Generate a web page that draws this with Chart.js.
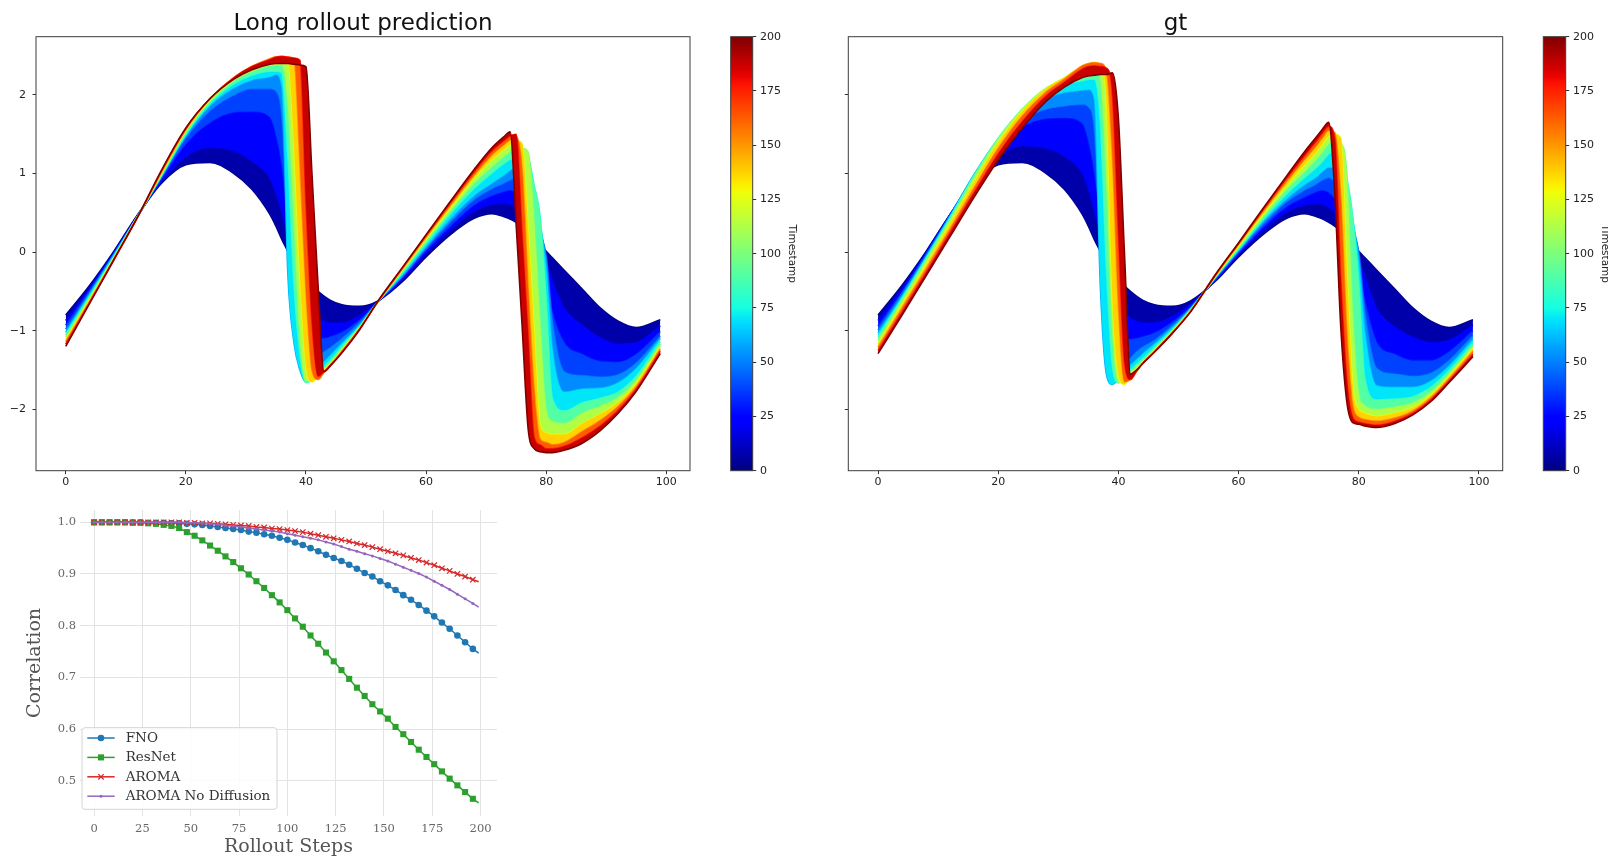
<!DOCTYPE html>
<html>
<head>
<meta charset="utf-8">
<title>Long rollout prediction / gt / correlation</title>
<script src="https://cdn.jsdelivr.net/npm/chart.js@4.4.1/dist/chart.umd.min.js"></script>
<style>
  html, body { margin: 0; padding: 0; background: #ffffff; }
  body { width: 1608px; height: 856px; position: relative; overflow: hidden; }
  canvas { position: absolute; }
  #corrChart { filter: blur(0.6px); }
</style>
</head>
<body>
<canvas id="predChart" width="700" height="500" style="left:0px;top:0px"></canvas>
<canvas id="predBar" width="120" height="500" style="left:700px;top:0px"></canvas>
<canvas id="gtChart" width="700" height="500" style="left:812px;top:0px"></canvas>
<canvas id="gtBar" width="120" height="500" style="left:1513px;top:0px"></canvas>
<canvas id="corrChart" width="510" height="376" style="left:0px;top:490px"></canvas>
<script>
// ---------------------------------------------------------------------------
// Solution snapshots u(x, t) on the spatial grid, one array per timestamp.
// ---------------------------------------------------------------------------
const xGrid = [0, 4, 8, 12, 16, 20, 24, 28, 31, 34, 35, 36, 37, 38, 39, 40, 41, 42, 43, 44,
               46, 49, 52, 56, 60, 64, 68, 71, 73, 74, 75, 76, 77, 78, 79, 80, 81, 83, 86, 89,
               92, 95, 99];
const timestamps = [0, 15, 30, 45, 60, 80, 100, 125, 150, 175, 200];

// initial state (shared by both rollouts)
const initialState = [-0.80, -0.42, 0.01, 0.48, 0.88, 1.11, 1.14, 1.00, 0.80, 0.48,
  0.33, 0.16, 0.01, -0.13, -0.25, -0.35, -0.43, -0.50, -0.56, -0.61,
  -0.67, -0.69, -0.62, -0.38, -0.06, 0.22, 0.43, 0.49, 0.45, 0.42,
  0.38, 0.33, 0.27, 0.20, 0.11, 0.01, -0.07, -0.23, -0.47, -0.71,
  -0.88, -0.96, -0.86];

// long rollout prediction
const pred015 = [-0.87, -0.45, 0.00, 0.47, 0.90, 1.21, 1.33, 1.29, 1.16, 0.94,
  0.75, 0.50, 0.20, -0.15, -0.45, -0.65, -0.77, -0.84, -0.88, -0.90,
  -0.90, -0.80, -0.63, -0.35, -0.02, 0.28, 0.52, 0.61, 0.62, 0.61,
  0.57, 0.50, 0.40, 0.27, 0.10, -0.12, -0.35, -0.71, -0.93, -1.09,
  -1.17, -1.15, -0.94];
const pred030 = [-0.93, -0.48, -0.02, 0.46, 0.94, 1.38, 1.65, 1.78, 1.79, 1.72,
  1.50, 1.10, 0.40, -0.40, -0.85, -1.02, -1.08, -1.10, -1.10, -1.08,
  -1.02, -0.86, -0.63, -0.33, 0.02, 0.33, 0.60, 0.72, 0.77, 0.79,
  0.76, 0.68, 0.52, 0.30, 0.02, -0.35, -0.75, -1.15, -1.30, -1.39,
  -1.40, -1.30, -1.01];
const pred045 = [-0.98, -0.51, -0.03, 0.46, 0.96, 1.45, 1.80, 2.00, 2.08, 2.08,
  2.05, 1.70, 0.20, -0.90, -1.30, -1.42, -1.40, -1.33, -1.27, -1.22,
  -1.10, -0.89, -0.63, -0.31, 0.05, 0.38, 0.67, 0.81, 0.88, 0.92,
  0.95, 0.90, 0.75, 0.48, 0.25, -0.05, -0.85, -1.52, -1.57, -1.59,
  -1.56, -1.41, -1.07];
const pred060 = [-1.02, -0.53, -0.04, 0.46, 0.97, 1.48, 1.86, 2.09, 2.19, 2.23,
  2.26, 2.10, -0.30, -1.15, -1.50, -1.65, -1.58, -1.49, -1.40, -1.32,
  -1.16, -0.92, -0.63, -0.30, 0.07, 0.42, 0.72, 0.88, 0.98, 1.04,
  1.08, 1.05, 0.90, 0.60, 0.35, -0.20, -1.20, -1.78, -1.74, -1.73,
  -1.66, -1.48, -1.10];
const pred080 = [-1.05, -0.56, -0.06, 0.46, 0.98, 1.50, 1.89, 2.14, 2.25, 2.30,
  2.30, 2.28, 1.20, -0.40, -1.30, -1.66, -1.62, -1.54, -1.46, -1.38,
  -1.20, -0.94, -0.63, -0.27, 0.11, 0.48, 0.81, 1.01, 1.13, 1.18,
  1.22, 1.24, 1.20, 0.85, 0.45, -0.60, -1.85, -2.02, -1.92, -1.86,
  -1.78, -1.58, -1.14];
const pred100 = [-1.08, -0.58, -0.07, 0.46, 1.00, 1.53, 1.92, 2.18, 2.30, 2.37,
  2.38, 2.38, 1.85, 0.40, -1.10, -1.64, -1.62, -1.56, -1.48, -1.41,
  -1.23, -0.95, -0.63, -0.25, 0.14, 0.52, 0.88, 1.09, 1.22, 1.28,
  1.32, 1.32, 1.27, 0.40, -0.90, -2.00, -2.15, -2.18, -2.05, -1.96,
  -1.85, -1.63, -1.17];
const pred125 = [-1.11, -0.60, -0.08, 0.45, 1.01, 1.55, 1.94, 2.21, 2.34, 2.43,
  2.44, 2.45, 2.44, 1.35, -0.30, -1.45, -1.65, -1.58, -1.50, -1.43,
  -1.25, -0.96, -0.63, -0.23, 0.17, 0.56, 0.94, 1.18, 1.31, 1.37,
  1.42, 1.38, 0.30, -1.00, -2.20, -2.30, -2.32, -2.32, -2.18, -2.06,
  -1.91, -1.67, -1.20];
const pred150 = [-1.14, -0.62, -0.09, 0.45, 1.02, 1.56, 1.95, 2.22, 2.36, 2.46,
  2.48, 2.48, 2.48, 2.46, 1.10, -0.50, -1.50, -1.62, -1.53, -1.44,
  -1.26, -0.97, -0.63, -0.22, 0.19, 0.59, 0.98, 1.24, 1.37, 1.43,
  1.47, 1.05, -0.45, -1.75, -2.38, -2.42, -2.45, -2.42, -2.28, -2.14,
  -1.96, -1.71, -1.23];
const pred175 = [-1.17, -0.64, -0.10, 0.45, 1.04, 1.57, 1.95, 2.22, 2.36, 2.45,
  2.48, 2.49, 2.48, 2.47, 2.44, 0.60, -0.90, -1.58, -1.52, -1.45,
  -1.27, -0.97, -0.63, -0.21, 0.21, 0.62, 1.02, 1.29, 1.42, 1.48,
  1.50, 0.25, -1.05, -2.35, -2.45, -2.50, -2.50, -2.47, -2.36, -2.21,
  -2.01, -1.74, -1.26];
const pred200 = [-1.20, -0.65, -0.10, 0.45, 1.05, 1.58, 1.95, 2.20, 2.32, 2.39,
  2.40, 2.40, 2.40, 2.39, 2.38, 2.36, 1.00, -0.40, -1.52, -1.45,
  -1.28, -0.98, -0.62, -0.20, 0.22, 0.64, 1.05, 1.33, 1.47, 1.53,
  0.35, -0.95, -2.25, -2.50, -2.54, -2.55, -2.55, -2.52, -2.43, -2.27,
  -2.05, -1.77, -1.29];

// ground truth
const gt015 = [-0.87, -0.46, 0.00, 0.48, 0.92, 1.22, 1.35, 1.32, 1.22, 1.00,
  0.80, 0.52, 0.20, -0.15, -0.45, -0.65, -0.77, -0.84, -0.88, -0.90,
  -0.90, -0.82, -0.66, -0.37, -0.03, 0.27, 0.51, 0.60, 0.62, 0.61,
  0.57, 0.50, 0.40, 0.27, 0.10, -0.10, -0.30, -0.72, -0.95, -1.08,
  -1.15, -1.12, -0.93];
const gt030 = [-0.94, -0.50, -0.02, 0.48, 0.95, 1.36, 1.60, 1.70, 1.71, 1.64,
  1.42, 1.02, 0.35, -0.45, -0.90, -1.05, -1.10, -1.11, -1.10, -1.08,
  -1.03, -0.89, -0.69, -0.36, -0.01, 0.31, 0.58, 0.70, 0.77, 0.79,
  0.76, 0.68, 0.53, 0.33, 0.07, -0.28, -0.62, -1.15, -1.30, -1.38,
  -1.38, -1.27, -1.00];
const gt045 = [-0.99, -0.53, -0.04, 0.47, 0.98, 1.40, 1.68, 1.82, 1.86, 1.88,
  1.85, 1.55, 0.10, -1.00, -1.35, -1.45, -1.42, -1.35, -1.27, -1.21,
  -1.12, -0.93, -0.71, -0.35, 0.01, 0.35, 0.64, 0.79, 0.87, 0.92,
  0.95, 0.90, 0.78, 0.55, 0.30, 0.00, -0.75, -1.48, -1.55, -1.58,
  -1.54, -1.38, -1.06];
const gt060 = [-1.03, -0.56, -0.06, 0.46, 0.99, 1.44, 1.77, 1.96, 2.03, 2.06,
  2.07, 1.95, -0.45, -1.55, -1.68, -1.62, -1.52, -1.44, -1.37, -1.30,
  -1.17, -0.96, -0.72, -0.34, 0.02, 0.38, 0.68, 0.86, 0.96, 1.03,
  1.08, 1.07, 1.00, 0.75, 0.40, -0.10, -1.00, -1.70, -1.72, -1.72,
  -1.64, -1.45, -1.11];
const gt080 = [-1.08, -0.59, -0.08, 0.44, 0.98, 1.45, 1.81, 2.05, 2.14, 2.18,
  2.20, 2.20, 1.65, -0.20, -1.45, -1.66, -1.58, -1.50, -1.43, -1.36,
  -1.21, -0.99, -0.73, -0.33, 0.04, 0.41, 0.74, 0.95, 1.08, 1.16,
  1.25, 1.27, 1.25, 0.95, 0.45, -0.40, -1.60, -1.88, -1.87, -1.84,
  -1.72, -1.51, -1.16];
const gt100 = [-1.12, -0.62, -0.11, 0.41, 0.95, 1.44, 1.82, 2.09, 2.20, 2.30,
  2.32, 2.33, 2.20, 0.90, -1.00, -1.66, -1.62, -1.53, -1.46, -1.39,
  -1.24, -1.00, -0.74, -0.33, 0.06, 0.44, 0.80, 1.03, 1.19, 1.28,
  1.38, 1.40, 1.38, 1.00, -0.80, -1.80, -1.95, -2.00, -1.97, -1.92,
  -1.78, -1.55, -1.19];
const gt125 = [-1.17, -0.67, -0.16, 0.36, 0.89, 1.39, 1.79, 2.08, 2.22, 2.36,
  2.39, 2.40, 2.38, 1.90, -0.60, -1.55, -1.68, -1.57, -1.49, -1.41,
  -1.25, -1.01, -0.75, -0.32, 0.08, 0.48, 0.85, 1.11, 1.28, 1.38,
  1.48, 1.50, 1.45, -0.20, -1.70, -2.00, -2.05, -2.09, -2.05, -1.98,
  -1.82, -1.58, -1.23];
const gt150 = [-1.21, -0.71, -0.21, 0.30, 0.82, 1.32, 1.73, 2.04, 2.20, 2.37,
  2.40, 2.41, 2.40, 2.30, 1.20, -0.70, -1.65, -1.62, -1.51, -1.42,
  -1.26, -1.02, -0.75, -0.31, 0.10, 0.51, 0.90, 1.18, 1.36, 1.46,
  1.55, 1.52, 0.70, -1.00, -1.95, -2.10, -2.13, -2.15, -2.11, -2.02,
  -1.85, -1.61, -1.26];
const gt175 = [-1.25, -0.76, -0.26, 0.25, 0.76, 1.25, 1.66, 1.99, 2.16, 2.33,
  2.36, 2.37, 2.36, 2.34, 2.00, 0.20, -1.40, -1.62, -1.52, -1.42,
  -1.27, -1.03, -0.76, -0.31, 0.11, 0.53, 0.94, 1.23, 1.42, 1.52,
  1.60, 1.45, -0.30, -1.60, -2.10, -2.16, -2.18, -2.20, -2.15, -2.05,
  -1.88, -1.64, -1.30];
const gt200 = [-1.29, -0.80, -0.30, 0.20, 0.70, 1.17, 1.58, 1.92, 2.10, 2.22,
  2.24, 2.25, 2.26, 2.26, 2.28, 1.70, 0.00, -1.55, -1.50, -1.42,
  -1.27, -1.03, -0.76, -0.30, 0.12, 0.55, 0.97, 1.28, 1.47, 1.57,
  1.65, 0.75, -0.95, -1.90, -2.17, -2.19, -2.21, -2.23, -2.18, -2.07,
  -1.90, -1.66, -1.33];

const fieldXTicks = [0, 20, 40, 60, 80, 100];
const fieldYTicks = [-2, -1, 0, 1, 2];
const colorbarTicks = [0, 25, 50, 75, 100, 125, 150, 175, 200];

// ---------------------------------------------------------------------------
// Correlation with ground truth along the rollout
// ---------------------------------------------------------------------------
const rolloutSteps = [0, 4, 8, 12, 16, 20, 24, 28, 32, 36, 40, 44, 48, 52, 56, 60, 64, 68, 72, 76,
  80, 84, 88, 92, 96, 100, 104, 108, 112, 116, 120, 124, 128, 132, 136, 140, 144, 148, 152, 156,
  160, 164, 168, 172, 176, 180, 184, 188, 192, 196, 199];
const corrFNO = [1.000, 1.000, 1.000, 1.000, 1.000, 1.000, 1.000, 0.999, 0.999, 0.999,
  0.998, 0.998, 0.997, 0.996, 0.995, 0.993, 0.991, 0.989, 0.987, 0.985,
  0.982, 0.980, 0.977, 0.974, 0.970, 0.966, 0.961, 0.956, 0.950, 0.944,
  0.937, 0.931, 0.925, 0.918, 0.910, 0.902, 0.895, 0.886, 0.878, 0.869,
  0.859, 0.850, 0.840, 0.829, 0.818, 0.806, 0.794, 0.781, 0.768, 0.755, 0.747];
const corrResNet = [1.000, 1.000, 1.000, 1.000, 1.000, 0.999, 0.999, 0.998, 0.997, 0.995,
  0.993, 0.989, 0.981, 0.974, 0.965, 0.955, 0.945, 0.934, 0.923, 0.911,
  0.899, 0.886, 0.873, 0.859, 0.845, 0.830, 0.814, 0.798, 0.781, 0.765,
  0.748, 0.731, 0.714, 0.697, 0.680, 0.664, 0.648, 0.634, 0.620, 0.604,
  0.590, 0.575, 0.560, 0.546, 0.532, 0.518, 0.504, 0.491, 0.478, 0.465, 0.457];
const corrAROMA = [1.000, 1.000, 1.000, 1.000, 1.000, 1.000, 1.000, 1.000, 1.000, 1.000,
  1.000, 1.000, 0.999, 0.999, 0.998, 0.998, 0.997, 0.996, 0.995, 0.994,
  0.993, 0.991, 0.990, 0.988, 0.987, 0.985, 0.983, 0.981, 0.978, 0.975,
  0.972, 0.969, 0.966, 0.963, 0.959, 0.956, 0.952, 0.948, 0.944, 0.940,
  0.936, 0.931, 0.927, 0.922, 0.917, 0.911, 0.906, 0.900, 0.895, 0.889, 0.885];
const corrAROMANoDiff = [1.000, 1.000, 1.000, 1.000, 1.000, 1.000, 1.000, 1.000, 1.000, 1.000,
  1.000, 1.000, 0.999, 0.999, 0.998, 0.997, 0.996, 0.994, 0.993, 0.991,
  0.989, 0.987, 0.985, 0.983, 0.981, 0.978, 0.975, 0.972, 0.969, 0.966,
  0.962, 0.958, 0.953, 0.948, 0.944, 0.939, 0.935, 0.930, 0.925, 0.919,
  0.913, 0.907, 0.901, 0.894, 0.886, 0.878, 0.870, 0.861, 0.852, 0.843, 0.836];
const rolloutTicks = [0, 25, 50, 75, 100, 125, 150, 175, 200];
const corrTicks = [0.5, 0.6, 0.7, 0.8, 0.9, 1.0];

// ---------------------------------------------------------------------------
// Styling helpers
// ---------------------------------------------------------------------------
const SANS = '"DejaVu Sans", "Liberation Sans", sans-serif';
const SERIF = '"DejaVu Serif", "Liberation Serif", serif';

// jet colormap (piecewise linear segments)
const JET = {
  r: [[0, 0], [0.35, 0], [0.66, 1], [0.89, 1], [1, 0.5]],
  g: [[0, 0], [0.125, 0], [0.375, 1], [0.64, 1], [0.91, 0], [1, 0]],
  b: [[0, 0.5], [0.11, 1], [0.34, 1], [0.65, 0], [1, 0]]
};
function segValue(seg, v) {
  for (let i = 1; i < seg.length; i++) {
    if (v <= seg[i][0]) {
      const [x0, y0] = seg[i - 1], [x1, y1] = seg[i];
      return y0 + (y1 - y0) * (v - x0) / (x1 - x0);
    }
  }
  return seg[seg.length - 1][1];
}
function jet(v) {
  v = Math.max(0, Math.min(1, v));
  const c = k => Math.round(255 * segValue(JET[k], v));
  return `rgb(${c('r')},${c('g')},${c('b')})`;
}
const minusSign = v => (v < 0 ? '\u2212' + Math.abs(v) : String(v));
const fixedTicks = values => scale => { scale.ticks = values.map(v => ({ value: v })); };

// plugins
const panelTitle = {
  id: 'panelTitle',
  afterDraw(chart, _args, opts) {
    if (!opts || !opts.text) return;
    const { ctx, chartArea: a } = chart;
    ctx.save();
    ctx.font = `${opts.size}px ${SANS}`;
    ctx.fillStyle = '#111111';
    ctx.textAlign = 'center';
    ctx.textBaseline = 'alphabetic';
    ctx.fillText(opts.text, (a.left + a.right) / 2, opts.baseline);
    ctx.restore();
  }
};
const axesFrame = {
  id: 'axesFrame',
  afterDatasetsDraw(chart, _args, opts) {
    const { ctx, chartArea: a } = chart;
    ctx.save();
    ctx.strokeStyle = opts.color || '#3c3c3c';
    ctx.lineWidth = opts.width || 1;
    ctx.strokeRect(a.left, a.top, a.right - a.left, a.bottom - a.top);
    ctx.restore();
  }
};
const colorRamp = {
  id: 'colorRamp',
  beforeDatasetsDraw(chart) {
    const { ctx, chartArea: a } = chart;
    const g = ctx.createLinearGradient(0, a.bottom, 0, a.top);
    for (let i = 0; i <= 64; i++) g.addColorStop(i / 64, jet(i / 64));
    ctx.save();
    ctx.fillStyle = g;
    ctx.fillRect(a.left, a.top, a.right - a.left, a.bottom - a.top);
    ctx.restore();
  }
};

// ---------------------------------------------------------------------------
// Field panels: one line per timestamp, bands between consecutive timestamps
// ---------------------------------------------------------------------------
function fieldDatasets(series) {
  return series.map((values, k) => {
    const t = timestamps[k];
    const prev = k > 0 ? timestamps[k - 1] : t;
    return {
      label: 't = ' + t,
      data: xGrid.map((x, i) => ({ x, y: values[i] })),
      borderColor: jet(t / 200),
      backgroundColor: jet((t + prev) / 400),
      borderWidth: 1.6,
      pointRadius: 0,
      cubicInterpolationMode: 'monotone',
      fill: k === 0 ? false : '-1',
      order: series.length - k
    };
  });
}

function fieldChart(id, series, title, yWidth, rightPad, showYLabels) {
  return new Chart(document.getElementById(id), {
    type: 'line',
    data: { datasets: fieldDatasets(series) },
    options: {
      responsive: false, animation: false, devicePixelRatio: 1, events: [],
      layout: { padding: { left: 0, top: 36.7, right: rightPad, bottom: 0 } },
      plugins: {
        legend: { display: false }, tooltip: { enabled: false },
        panelTitle: { text: title, size: 23, baseline: 30 },
        axesFrame: { color: '#3c3c3c', width: 1 }
      },
      scales: {
        x: {
          type: 'linear', min: -4.95, max: 103.95,
          afterBuildTicks: fixedTicks(fieldXTicks),
          afterFit: s => { s.height = 29.3; },
          grid: { drawOnChartArea: false, drawTicks: true, tickLength: 3.5, tickColor: '#333', tickWidth: 1 },
          border: { display: false },
          ticks: { color: '#222', font: { family: SANS, size: 11 }, padding: 1, maxRotation: 0, autoSkip: false }
        },
        y: {
          type: 'linear', min: -2.78, max: 2.74,
          afterBuildTicks: fixedTicks(fieldYTicks),
          afterFit: s => { s.width = yWidth; },
          grid: { drawOnChartArea: false, drawTicks: true, tickLength: 3.5, tickColor: '#333', tickWidth: 1 },
          border: { display: false },
          ticks: {
            color: '#222', font: { family: SANS, size: 11 }, padding: 6.5, autoSkip: false,
            callback: v => (showYLabels ? minusSign(v) : '')
          }
        }
      }
    },
    plugins: [panelTitle, axesFrame]
  });
}

function colorbar(id, leftPad) {
  return new Chart(document.getElementById(id), {
    type: 'line',
    data: { datasets: [] },
    options: {
      responsive: false, animation: false, devicePixelRatio: 1, events: [],
      layout: { padding: { left: leftPad, top: 36.7, right: 0, bottom: 29.3 } },
      plugins: { legend: { display: false }, tooltip: { enabled: false }, axesFrame: { color: '#3c3c3c', width: 1 } },
      scales: {
        x: { type: 'linear', display: false, min: 0, max: 1 },
        y: {
          type: 'linear', position: 'right', min: 0, max: 200,
          afterBuildTicks: fixedTicks(colorbarTicks),
          afterFit: s => { s.width = 67.3; },
          grid: { drawOnChartArea: false, drawTicks: true, tickLength: 3.5, tickColor: '#333', tickWidth: 1 },
          border: { display: false },
          ticks: { color: '#222', font: { family: SANS, size: 11 }, padding: 3.8, autoSkip: false },
          title: {
            display: true, text: 'Timestamp', color: '#222',
            font: { family: SANS, size: 10.5 }, padding: { top: 22, bottom: 0 }
          }
        }
      }
    },
    plugins: [colorRamp, axesFrame]
  });
}

fieldChart('predChart',
  [initialState, pred015, pred030, pred045, pred060, pred080, pred100, pred125, pred150, pred175, pred200],
  'Long rollout prediction', 36, 10, true);
colorbar('predBar', 30.7);
fieldChart('gtChart',
  [initialState, gt015, gt030, gt045, gt060, gt080, gt100, gt125, gt150, gt175, gt200],
  'gt', 36.3, 9.3, false);
colorbar('gtBar', 30.3);

// ---------------------------------------------------------------------------
// Correlation panel
// ---------------------------------------------------------------------------
function drawMarker(ctx, style, r, x, y, color, lw) {
  ctx.save();
  ctx.fillStyle = color;
  ctx.strokeStyle = color;
  ctx.lineWidth = lw || 1;
  ctx.beginPath();
  if (style === 'rect') {
    const h = r * Math.SQRT1_2;
    ctx.rect(x - h, y - h, 2 * h, 2 * h);
    ctx.fill();
  } else if (style === 'crossRot') {
    const h = r * Math.SQRT1_2;
    ctx.moveTo(x - h, y - h); ctx.lineTo(x + h, y + h);
    ctx.moveTo(x - h, y + h); ctx.lineTo(x + h, y - h);
    ctx.stroke();
  } else {
    ctx.arc(x, y, r, 0, Math.PI * 2);
    ctx.fill();
  }
  ctx.restore();
}

const corrLegend = {
  id: 'corrLegend',
  afterDraw(chart, _args, opts) {
    const { ctx } = chart;
    ctx.save();
    ctx.beginPath();
    if (ctx.roundRect) ctx.roundRect(opts.x, opts.y, opts.w, opts.h, 3);
    else ctx.rect(opts.x, opts.y, opts.w, opts.h);
    ctx.fillStyle = 'rgba(255,255,255,0.85)';
    ctx.fill();
    ctx.strokeStyle = '#d4d4d4';
    ctx.lineWidth = 1;
    ctx.stroke();
    chart.data.datasets.forEach((ds, i) => {
      const y = opts.firstRow + i * opts.rowGap;
      ctx.strokeStyle = ds.borderColor;
      ctx.lineWidth = ds.borderWidth;
      ctx.beginPath();
      ctx.moveTo(opts.lineX0, y);
      ctx.lineTo(opts.lineX1, y);
      ctx.stroke();
      drawMarker(ctx, ds.pointStyle, ds.legendRadius, (opts.lineX0 + opts.lineX1) / 2, y, ds.borderColor, ds.pointBorderWidth);
      ctx.fillStyle = '#333333';
      ctx.font = `13.5px ${SERIF}`;
      ctx.textAlign = 'left';
      ctx.textBaseline = 'middle';
      ctx.fillText(ds.label, opts.textX, y + 0.5);
    });
    ctx.restore();
  }
};

const lastIdx = rolloutSteps.length - 1;
function corrSeries(label, values, color, style, radius, order, borderW) {
  return {
    label,
    data: rolloutSteps.map((s, i) => ({ x: s, y: values[i] })),
    borderColor: color,
    backgroundColor: color,
    borderWidth: 1.5,
    pointStyle: style,
    pointRadius: ctx => (ctx.dataIndex === lastIdx ? 0 : radius),
    pointBorderColor: color,
    pointBackgroundColor: color,
    pointBorderWidth: borderW,
    legendRadius: radius,
    fill: false,
    order
  };
}

new Chart(document.getElementById('corrChart'), {
  type: 'line',
  data: {
    datasets: [
      corrSeries('FNO', corrFNO, '#1f77b4', 'circle', 3.3, 4, 0),
      corrSeries('ResNet', corrResNet, '#2ca02c', 'rect', 4.3, 3, 0),
      corrSeries('AROMA', corrAROMA, '#d62728', 'crossRot', 3.8, 2, 1.2),
      corrSeries('AROMA No Diffusion', corrAROMANoDiff, '#9467bd', 'circle', 1.5, 1, 0)
    ]
  },
  options: {
    responsive: false, animation: false, devicePixelRatio: 1, events: [],
    layout: { padding: { left: 0, top: 20, right: 13, bottom: 0 } },
    plugins: {
      legend: { display: false }, tooltip: { enabled: false },
      corrLegend: { x: 82, y: 237.7, w: 195, h: 81.6, firstRow: 248, rowGap: 19.4, lineX0: 87.3, lineX1: 114.7, textX: 125.7 }
    },
    scales: {
      x: {
        type: 'linear', min: -7.3, max: 208.5,
        afterBuildTicks: fixedTicks(rolloutTicks),
        afterFit: s => { s.height = 50; },
        grid: { color: '#e3e3e3', lineWidth: 1, drawTicks: false },
        border: { display: false },
        ticks: { color: '#666666', font: { family: SERIF, size: 11.5 }, padding: 6, maxRotation: 0, autoSkip: false },
        title: { display: true, text: 'Rollout Steps', color: '#555555', font: { family: SERIF, size: 19 }, padding: { top: 0, bottom: 7.9 } }
      },
      y: {
        type: 'linear', min: 0.4317, max: 1.0238,
        afterBuildTicks: fixedTicks(corrTicks),
        afterFit: s => { s.width = 80; },
        grid: { color: '#e3e3e3', lineWidth: 1, drawTicks: false },
        border: { display: false },
        ticks: { color: '#666666', font: { family: SERIF, size: 11.5 }, padding: 4, autoSkip: false, callback: v => v.toFixed(1) },
        title: { display: true, text: 'Correlation', color: '#555555', font: { family: SERIF, size: 19 }, padding: { top: 23.6, bottom: 0 } }
      }
    }
  },
  plugins: [corrLegend]
});
</script>
</body>
</html>
